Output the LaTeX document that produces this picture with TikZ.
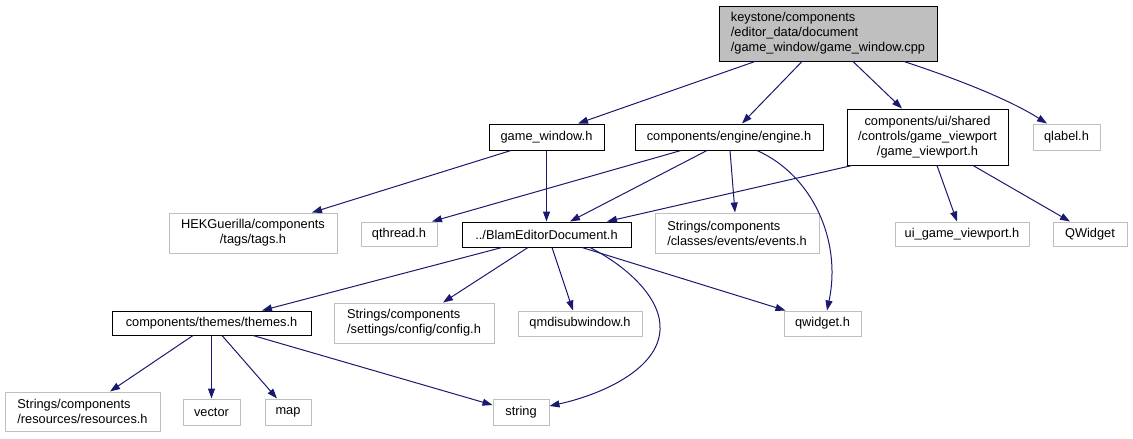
\documentclass[tikz,border=0pt]{standalone}
\usepackage{fontspec}
\setmainfont{Liberation Sans}
\usetikzlibrary{arrows.meta}
\definecolor{edgecol}{HTML}{191970}
\definecolor{graybd}{HTML}{BFBFBF}
\begin{document}
\begin{tikzpicture}[x=1pt,y=-1pt,
 box/.style={draw=black, line width=1pt, inner sep=0pt, font=\fontsize{12.8}{15}\selectfont, align=center},
 gbox/.style={box, draw=graybd},
 rootbox/.style={box, fill=graybd},
 edge/.style={draw=edgecol, line width=1pt, -{Triangle[length=10pt,width=7pt]}}]
\useasboundingbox (0,0) rectangle (1133,439);

\node[rootbox, minimum width=218, minimum height=55, align=left] (root) at (828,33.5) {keystone/components\\/editor\_data/document\\/game\_window/game\_window.cpp};
\node[box, minimum width=115, minimum height=26] (gw) at (546.5,137) {game\_window.h};
\node[box, minimum width=188, minimum height=26] (eng) at (729,137) {components/engine/engine.h};
\node[box, minimum width=161, minimum height=56] (gvp) at (927.5,137) {components/ui/shared\\/controls/game\_viewport\\/game\_viewport.h};
\node[gbox, minimum width=67, minimum height=26] (qlabel) at (1066.5,137) {qlabel.h};

\node[gbox, minimum width=168, minimum height=40] (hek) at (253,233) {HEKGuerilla/components\\/tags/tags.h};
\node[gbox, minimum width=76, minimum height=24] (qthread) at (399,234) {qthread.h};
\node[box, minimum width=169, minimum height=25] (blam) at (546.5,234.5) {../BlamEditorDocument.h};
\node[gbox, minimum width=164, minimum height=40, align=left] (events) at (737,233) {Strings/components\\/classes/events/events.h};
\node[gbox, minimum width=134, minimum height=24] (uigv) at (962,234) {ui\_game\_viewport.h};
\node[gbox, minimum width=74, minimum height=24] (qw) at (1090,234) {QWidget};

\node[box, minimum width=199, minimum height=24] (themes) at (211.5,323) {components/themes/themes.h};
\node[gbox, minimum width=160, minimum height=40, align=left] (config) at (414,323) {Strings/components\\/settings/config/config.h};
\node[gbox, minimum width=124, minimum height=25] (qmdi) at (580,323.5) {qmdisubwindow.h};
\node[gbox, minimum width=77, minimum height=25] (qwh) at (822.5,323.5) {qwidget.h};

\node[gbox, minimum width=155, minimum height=39, align=left] (res) at (82.5,411.5) {Strings/components\\/resources/resources.h};
\node[gbox, minimum width=57, minimum height=26] (vector) at (211.5,412) {vector};
\node[gbox, minimum width=46, minimum height=26] (map) at (288,412) {map};
\node[gbox, minimum width=56, minimum height=26] (string) at (521,412) {string};

% edges
\draw[edge] ([xshift=-73pt]root.south) -- ([xshift=31.5pt]gw.north);
\draw[edge] ([xshift=-26pt]root.south) -- ([xshift=13pt]eng.north);
\draw[edge] ([xshift=25pt]root.south) -- ([xshift=-25.5pt]gvp.north);
\draw[edge] ([xshift=76pt]root.south) .. controls (960,80) and (1010,100) .. ([xshift=-19.5pt]qlabel.north);

\draw[edge] (gw.south) -- (blam.north);
\draw[edge] ([xshift=-35.5pt]gw.south) -- ([xshift=59pt]hek.north);

\draw[edge] ([xshift=-48pt]eng.south) -- ([xshift=33pt]qthread.north);
\draw[edge] ([xshift=-22pt]eng.south) -- ([xshift=23.5pt]blam.north);
\draw[edge] ([xshift=1pt]eng.south) -- ([xshift=-2pt]events.north);
\draw[edge] ([xshift=28pt]eng.south) .. controls (812,175) and (842,240) .. ([xshift=4.5pt]qwh.north);

\draw[edge] ([xshift=-75.5pt]gvp.south) -- ([xshift=60.5pt]blam.north);
\draw[edge] ([xshift=9.5pt]gvp.south) -- ([xshift=-5pt]uigv.north);
\draw[edge] ([xshift=45.5pt]gvp.south) -- ([xshift=-20pt]qw.north);

\draw[edge] ([xshift=-44.5pt]blam.south) -- ([xshift=50.5pt]themes.north);
\draw[edge] ([xshift=-18.5pt]blam.south) -- ([xshift=29pt]config.north);
\draw[edge] ([xshift=5.5pt]blam.south) -- ([xshift=-7pt]qmdi.north);
\draw[edge] ([xshift=35.5pt]blam.south) -- ([xshift=2pt]qwh.north west);
\draw[edge] ([xshift=43.5pt]blam.south) .. controls (630,268) and (662,300) .. (660,330) .. controls (658,370) and (600,395) .. ([yshift=6pt]string.east);

\draw[edge] ([xshift=-18.5pt]themes.south) -- ([xshift=27.5pt]res.north);
\draw[edge] (themes.south) -- (vector.north);
\draw[edge] ([xshift=10.5pt]themes.south) -- ([xshift=-11pt]map.north);
\draw[edge] ([xshift=41.5pt]themes.south) -- ([yshift=7pt]string.west);
\end{tikzpicture}
\end{document}
